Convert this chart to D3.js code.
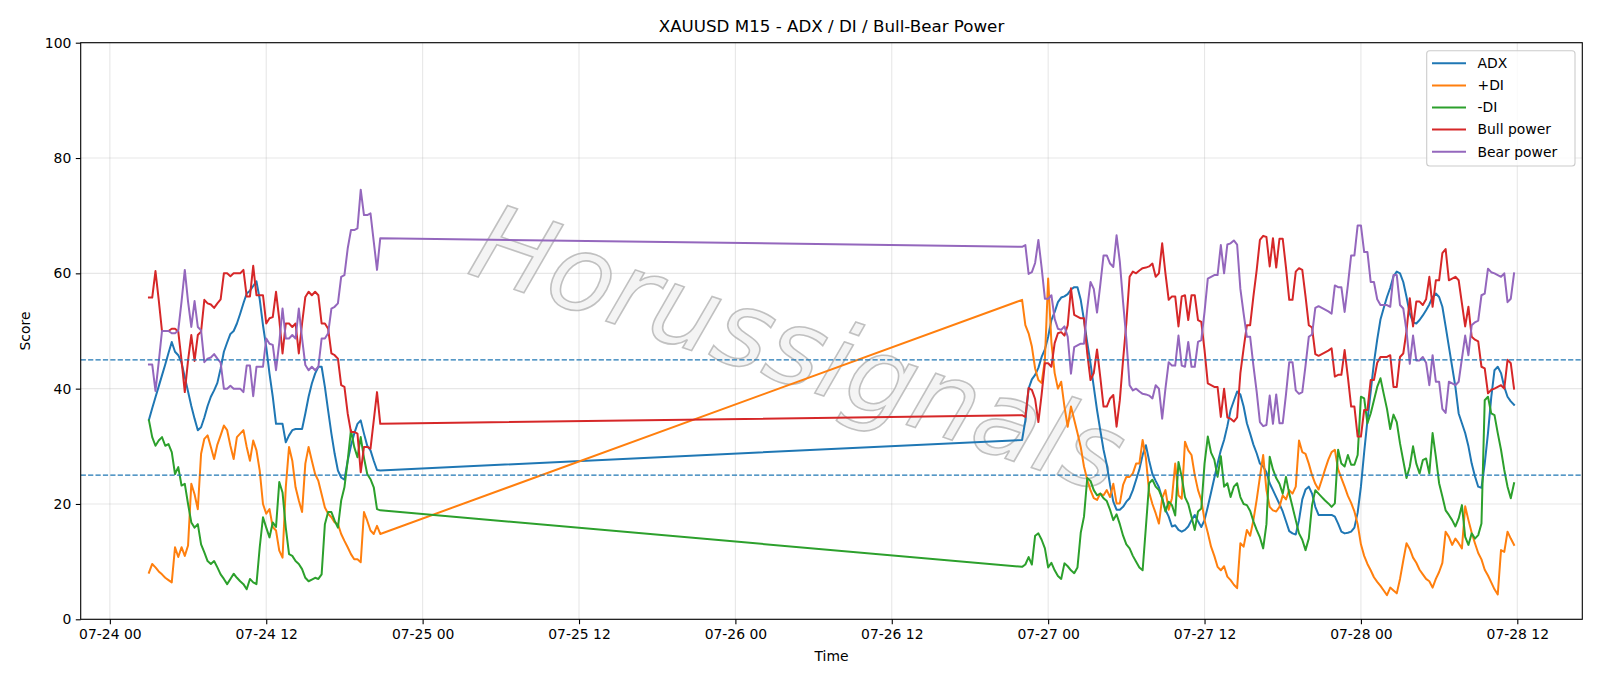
<!DOCTYPE html>
<html>
<head>
<meta charset="utf-8">
<script src="https://cdn.jsdelivr.net/npm/d3@7"></script>
<style>
  html, body { margin: 0; padding: 0; background: #ffffff; }
  svg { display: block; font-family: "DejaVu Sans", sans-serif; }
</style>
</head>
<body>
<svg id="chart" width="1600" height="686"></svg>
<script>
// ---------------- DATA ----------------
const chartTitle = "XAUUSD M15 - ADX / DI / Bull-Bear Power";
const seriesNames = ["ADX", "+DI", "-DI", "Bull power", "Bear power"];
// Two trading sessions of 15-minute bars (weekend gap in between)
const sessionStarts = ["2020-07-24T03:00:00Z", "2020-07-26T22:00:00Z"];
const sessionBars = [72, 152];
const xTickLabels = ["07-24 00","07-24 12","07-25 00","07-25 12","07-26 00","07-26 12","07-27 00","07-27 12","07-28 00","07-28 12"];
const yTickValues = [0, 20, 40, 60, 80, 100];
const thresholdLevels = [25, 45];

const adx = [
  34.6,36.6,38.5,40.4,42.3,44.2,46.2,48.1,46.4,45.8,
  44.5,42.0,39.5,37.0,34.8,32.8,33.3,35.0,37.0,38.6,
  39.7,41.0,43.5,46.4,48.0,49.5,50.0,51.3,53.0,54.8,
  56.5,57.0,57.8,58.6,55.5,51.0,47.2,42.6,38.6,33.9,
  33.9,33.9,30.7,31.9,32.8,33.0,33.0,33.0,35.7,38.6,
  40.9,42.6,43.8,43.8,40.3,36.2,32.2,28.7,25.8,24.6,
  24.2,27.5,30.1,32.2,33.9,34.5,32.2,30.1,29.3,27.5,
  25.9,25.8,
  31.1,34.5,40.0,41.6,42.4,43.6,45.5,46.8,49.0,51.9,
  53.3,55.0,55.8,56.0,56.4,57.2,57.6,57.6,55.4,51.9,
  48.0,44.4,40.3,36.3,32.8,29.4,26.8,23.3,20.4,19.0,
  19.0,19.5,20.4,21.0,22.4,24.2,26.0,28.5,30.2,27.5,
  25.2,24.0,22.9,21.0,19.0,17.8,16.1,16.3,15.5,15.2,
  15.5,16.1,17.2,18.1,17.0,16.0,17.2,19.5,22.0,24.5,
  27.0,29.3,31.1,33.5,36.3,37.9,39.5,39.0,36.9,34.0,
  32.2,30.3,28.8,27.0,26.5,25.5,23.6,22.4,21.2,20.0,
  18.7,17.0,15.3,14.9,14.7,17.2,20.8,22.5,23.0,21.8,
  19.5,18.1,18.1,18.1,18.1,18.1,17.8,16.6,15.2,14.9,
  15.0,15.2,15.9,18.5,23.0,29.0,34.5,39.5,44.5,48.5,
  52.0,54.0,55.9,57.5,59.5,60.3,60.0,58.5,55.9,53.0,
  51.5,51.3,51.9,52.7,53.6,54.6,55.9,56.5,55.9,54.2,
  50.8,47.3,43.8,40.3,35.7,34.0,32.3,30.0,27.0,24.8,
  23.0,22.8,27.0,32.3,38.5,43.2,43.8,42.7,40.3,38.6,
  37.8,37.2
];
const plusDI = [
  8.1,9.6,9.0,8.3,7.8,7.2,6.8,6.4,12.5,10.8,
  12.5,11.0,12.8,23.5,21.7,19.1,28.7,31.3,31.9,29.9,
  27.8,30.3,31.9,33.6,32.8,30.1,27.8,31.6,32.2,32.8,
  29.9,27.5,31.0,29.3,25.8,20.0,18.3,19.1,16.0,15.4,
  11.9,10.7,22.9,29.9,27.5,22.9,20.6,18.6,27.0,29.9,
  27.5,25.2,24.0,21.7,19.4,18.3,17.7,16.8,16.5,14.8,
  13.6,12.5,11.3,10.4,10.4,9.9,18.6,17.1,15.4,14.8,
  16.2,14.8,
  55.4,51.0,49.6,47.3,43.5,41.5,41.0,45.0,59.1,48.0,
  42.7,40.0,41.2,36.9,33.4,36.9,34.6,32.3,29.9,26.5,
  24.2,22.4,21.0,20.7,21.8,21.5,22.4,21.2,23.5,20.1,
  20.1,23.3,24.7,24.7,25.3,27.0,27.0,31.1,28.0,22.0,
  20.0,18.4,16.6,21.0,22.4,19.0,21.0,27.0,21.5,20.9,
  30.8,29.3,28.5,25.0,22.4,20.7,17.2,15.0,12.6,11.0,
  9.1,8.5,9.2,7.4,6.8,6.0,5.4,13.2,12.6,15.5,
  14.5,17.2,20.7,24.7,28.5,22.4,19.5,18.9,18.7,19.5,
  21.5,20.8,22.4,21.8,23.0,31.0,29.0,28.7,27.0,25.0,
  23.5,22.5,24.2,26.0,27.7,29.0,29.4,26.0,24.5,23.0,
  21.4,20.2,18.7,16.5,13.0,11.0,9.6,8.5,7.3,6.5,
  5.8,5.0,4.2,5.5,5.0,4.5,7.0,10.2,13.2,12.2,
  10.7,9.8,8.6,7.8,7.0,6.6,5.5,7.0,8.2,9.8,
  15.2,14.3,12.9,14.0,13.2,12.3,19.6,17.2,15.0,13.2,
  11.5,10.4,8.6,7.6,6.4,5.2,4.3,12.0,11.7,15.2,
  14.0,12.9
];
const minusDI = [
  34.5,31.6,30.1,31.0,31.6,30.1,30.4,29.0,25.2,26.4,
  23.2,23.5,20.0,16.8,15.9,16.5,13.0,11.6,10.1,9.6,
  10.1,9.0,7.8,7.0,6.1,7.0,7.9,7.2,6.6,6.1,
  5.2,7.0,6.4,6.1,12.5,17.7,15.9,14.2,16.8,16.0,
  23.8,22.0,15.9,11.3,11.0,10.1,9.6,8.7,7.2,6.6,
  6.9,7.2,7.0,7.8,16.5,18.6,18.6,17.1,15.9,20.6,
  22.9,27.5,32.8,29.9,28.1,31.6,28.0,25.2,24.3,22.9,
  19.1,18.9,
  9.1,9.5,10.8,9.5,14.5,14.9,13.8,12.3,9.0,9.8,
  8.5,7.5,7.0,9.7,9.2,8.5,8.0,9.0,15.0,17.8,
  24.5,24.0,22.4,21.5,21.8,21.0,20.5,19.0,17.2,18.2,
  16.5,14.5,13.0,12.3,11.0,10.0,9.0,8.5,16.0,23.6,
  24.2,23.0,22.4,21.0,18.7,20.4,19.8,18.0,27.3,24.7,
  21.2,20.0,17.8,15.5,18.7,19.2,27.0,31.7,28.9,27.7,
  24.7,28.3,23.0,23.6,21.2,23.0,23.6,21.2,20.0,19.8,
  18.8,17.0,15.5,14.2,12.3,16.5,28.2,26.0,24.5,23.5,
  21.8,24.7,21.8,19.5,17.2,14.9,13.8,12.0,14.0,19.8,
  22.4,21.8,21.2,20.6,20.1,19.5,20.1,29.4,27.0,26.5,
  28.5,26.8,26.8,28.5,38.6,38.3,34.0,35.7,38.0,40.3,
  41.8,39.1,36.5,33.0,35.5,34.2,30.5,27.5,24.5,26.5,
  30.0,27.0,25.3,27.6,27.9,25.3,32.3,28.2,23.6,21.3,
  18.9,18.1,17.2,16.1,17.5,19.8,14.3,12.9,14.9,14.0,
  14.6,16.6,38.0,38.6,35.7,35.4,32.3,29.4,25.9,23.0,
  21.0,23.6
];
const bullPower = [
  55.8,55.8,60.4,55.4,50.0,50.0,50.0,50.4,50.4,49.9,
  44.9,39.4,44.9,49.3,44.8,49.3,49.9,55.4,54.8,54.6,
  54.0,54.8,55.5,60.0,60.0,59.5,60.0,60.0,60.0,60.6,
  56.0,56.0,61.3,56.2,56.2,56.2,51.3,52.2,52.4,56.8,
  52.0,46.1,51.3,51.3,50.7,51.3,46.1,51.3,55.9,56.8,
  56.2,56.8,56.2,51.3,51.3,50.4,46.1,45.8,45.2,40.6,
  40.3,35.7,32.5,32.5,32.2,25.5,29.9,29.9,29.6,34.5,
  39.4,33.9,
  35.4,35.1,40.1,39.8,38.2,34.2,39.0,44.4,44.4,43.8,
  47.9,49.6,49.8,49.2,51.0,57.4,52.8,52.5,52.2,52.2,
  46.1,41.5,42.7,46.8,42.0,36.9,36.9,38.3,38.9,33.4,
  38.0,45.0,51.4,59.4,60.3,60.0,60.5,60.9,61.0,61.2,
  61.7,59.4,60.0,65.2,60.0,55.4,56.0,56.0,50.8,56.0,
  56.2,51.9,56.2,56.2,51.9,51.6,46.7,40.9,40.6,40.3,
  40.3,35.1,40.0,35.0,34.8,34.3,35.0,42.7,47.0,51.0,
  51.0,56.0,60.5,65.8,66.5,66.3,61.2,66.1,61.0,66.0,
  66.0,61.0,55.4,55.4,60.3,60.9,60.6,56.0,51.0,50.6,
  46.0,45.7,46.0,46.3,46.6,47.0,42.1,42.4,42.4,46.7,
  42.0,36.9,36.9,31.7,31.7,36.3,36.3,41.5,41.5,44.5,
  45.5,45.5,45.5,45.8,40.3,40.3,45.5,46.1,50.0,55.7,
  50.8,55.1,55.1,54.5,55.5,59.4,54.2,58.8,58.8,63.5,
  64.2,58.8,59.1,59.4,58.8,54.8,50.8,54.2,49.0,48.5,
  48.2,43.8,43.5,39.2,39.8,40.0,40.3,40.6,40.0,45.0,
  44.4,40.0
];
const bearPower = [
  44.2,44.2,39.6,44.6,50.0,50.0,50.0,49.6,49.6,50.1,
  55.1,60.6,55.1,50.7,55.2,50.7,50.1,44.6,45.2,45.4,
  46.0,45.2,44.5,40.0,40.0,40.5,40.0,40.0,40.0,39.4,
  44.0,44.0,38.7,43.8,43.8,43.8,48.7,47.8,47.6,43.2,
  48.0,53.9,48.7,48.7,49.3,48.7,53.9,48.7,44.1,43.2,
  43.8,43.2,43.8,48.7,48.7,49.6,53.9,54.2,54.8,59.4,
  59.7,64.3,67.5,67.5,67.8,74.5,70.1,70.1,70.4,65.5,
  60.6,66.1,
  64.6,64.9,59.9,60.2,61.8,65.8,61.0,55.6,55.6,56.2,
  52.1,50.4,50.2,50.8,49.0,42.6,47.2,47.5,47.8,47.8,
  53.9,58.5,57.3,53.2,58.0,63.1,63.1,61.7,61.1,66.6,
  62.0,55.0,48.6,40.6,39.7,40.0,39.5,39.1,39.0,38.8,
  38.3,40.6,40.0,34.8,40.0,44.6,44.0,44.0,49.2,44.0,
  43.8,48.1,43.8,43.8,48.1,48.4,53.3,59.1,59.4,59.7,
  59.7,64.9,60.0,65.0,65.2,65.7,65.0,57.3,53.0,49.0,
  49.0,44.0,39.5,34.2,33.5,33.7,38.8,33.9,39.0,34.0,
  34.0,39.0,44.6,44.6,39.7,39.1,39.4,44.0,49.0,49.4,
  54.0,54.3,54.0,53.7,53.4,53.0,57.9,57.6,57.6,53.3,
  58.0,63.1,63.1,68.3,68.3,63.7,63.7,58.5,58.5,55.5,
  54.5,54.5,54.5,54.2,59.7,59.7,54.5,53.9,50.0,44.3,
  49.2,44.9,44.9,45.5,44.5,40.6,45.8,41.2,41.2,36.5,
  35.8,41.2,40.9,40.6,41.2,45.2,49.2,45.8,51.0,51.5,
  51.8,56.2,56.5,60.8,60.2,60.0,59.7,59.4,60.0,55.0,
  55.6,60.0
];
const seriesColors = ["#1f77b4", "#ff7f0e", "#2ca02c", "#d62728", "#9467bd"];

// ---------------- BUILD ----------------
const BAR_MS = 15 * 60 * 1000;
const times = [];
sessionStarts.forEach((s, k) => {
  const t0 = new Date(s).getTime();
  for (let i = 0; i < sessionBars[k]; i++) times.push(new Date(t0 + i * BAR_MS));
});
const seriesValues = [adx, plusDI, minusDI, bullPower, bearPower];
const series = seriesNames.map((name, k) => ({
  name, color: seriesColors[k],
  points: times.map((t, i) => ({ t, v: seriesValues[k][i] })).filter(p => p.v !== undefined)
}));

const W = 1600, H = 686;
const plot = { left: 80.7, top: 42.7, right: 1582.3, bottom: 619.3 };

const svg = d3.select("#chart");

const tExt = d3.extent(times);
const pad = (tExt[1] - tExt[0]) * 0.05;
const x = d3.scaleUtc()
  .domain([new Date(tExt[0].getTime() - pad), new Date(tExt[1].getTime() + pad)])
  .range([plot.left, plot.right]);
const y = d3.scaleLinear().domain([0, 100]).range([plot.bottom, plot.top]);

const fmt = d3.utcFormat("%m-%d %H");
const xTicks = xTickLabels.map(lbl => {
  const [md, hh] = lbl.split(" ");
  const [mm, dd] = md.split("-");
  return new Date(Date.UTC(2020, +mm - 1, +dd, +hh));
});

// grid
const grid = svg.append("g");
grid.selectAll("line.gx").data(xTicks).join("line")
  .attr("x1", d => x(d)).attr("x2", d => x(d))
  .attr("y1", plot.top).attr("y2", plot.bottom)
  .attr("stroke", "#b0b0b0").attr("stroke-opacity", 0.3).attr("stroke-width", 1.1);
grid.selectAll("line.gy").data(yTickValues).join("line")
  .attr("x1", plot.left).attr("x2", plot.right)
  .attr("y1", d => y(d)).attr("y2", d => y(d))
  .attr("stroke", "#b0b0b0").attr("stroke-opacity", 0.3).attr("stroke-width", 1.1);

// watermark
svg.append("text")
  .attr("x", 0).attr("y", 0)
  .attr("transform", "translate(796,356) rotate(19)")
  .attr("text-anchor", "middle").attr("dominant-baseline", "middle")
  .attr("font-size", 106)
  .attr("font-style", "italic")
  .attr("fill", "#ececec").attr("fill-opacity", 0.6)
  .attr("stroke", "#a8a8a8").attr("stroke-width", 1.6).attr("stroke-opacity", 0.7)
  .text("Horussignals");

// clip
svg.append("clipPath").attr("id", "clip").append("rect")
  .attr("x", plot.left).attr("y", plot.top)
  .attr("width", plot.right - plot.left).attr("height", plot.bottom - plot.top);

// series lines
const line = d3.line().x(d => x(d.t)).y(d => y(d.v));
const linesG = svg.append("g").attr("clip-path", "url(#clip)");
series.forEach(s => {
  linesG.append("path").datum(s.points)
    .attr("d", line)
    .attr("fill", "none")
    .attr("stroke", s.color)
    .attr("stroke-width", 2.0)
    .attr("stroke-linejoin", "round")
    .attr("stroke-linecap", "square");
});

// threshold lines
linesG.selectAll("line.th").data(thresholdLevels).join("line")
  .attr("x1", plot.left).attr("x2", plot.right)
  .attr("y1", d => y(d)).attr("y2", d => y(d))
  .attr("stroke", "#1f77b4").attr("stroke-width", 1.4)
  .attr("stroke-dasharray", "5.2,2.2");

// axes
const xAxis = d3.axisBottom(x).tickValues(xTicks).tickFormat(fmt).tickSize(4.9).tickPadding(4.5);
const yAxis = d3.axisLeft(y).tickValues(yTickValues).tickFormat(d3.format("d")).tickSize(4.9).tickPadding(4.5);
const gx = svg.append("g").attr("transform", `translate(0,${plot.bottom})`).call(xAxis);
const gy = svg.append("g").attr("transform", `translate(${plot.left},0)`).call(yAxis);
[gx, gy].forEach(g => {
  g.select(".domain").remove();
  g.selectAll(".tick line").attr("stroke", "#000").attr("stroke-width", 1.1);
  g.selectAll(".tick text").attr("fill", "#000").attr("font-size", 13.9)
    .attr("font-family", "DejaVu Sans, sans-serif");
});

// frame
svg.append("rect")
  .attr("x", plot.left).attr("y", plot.top)
  .attr("width", plot.right - plot.left).attr("height", plot.bottom - plot.top)
  .attr("fill", "none").attr("stroke", "#000").attr("stroke-width", 1.1);

// title & labels
svg.append("text").attr("x", (plot.left + plot.right) / 2).attr("y", 32)
  .attr("text-anchor", "middle").attr("font-size", 16.7).attr("fill", "#000")
  .text(chartTitle);
svg.append("text").attr("x", (plot.left + plot.right) / 2).attr("y", 661)
  .attr("text-anchor", "middle").attr("font-size", 13.9).attr("fill", "#000")
  .text("Time");
svg.append("text")
  .attr("transform", `translate(30,${(plot.top + plot.bottom) / 2}) rotate(-90)`)
  .attr("text-anchor", "middle").attr("font-size", 13.9).attr("fill", "#000")
  .text("Score");

// legend
const lg = svg.append("g");
lg.append("rect").attr("x", 1426.7).attr("y", 50.7).attr("width", 148.3).attr("height", 115.3)
  .attr("rx", 3).attr("fill", "#fff").attr("fill-opacity", 0.8)
  .attr("stroke", "#cccccc").attr("stroke-width", 1.1);
series.forEach((s, k) => {
  const cy = 63.3 + k * 22.1;
  lg.append("line").attr("x1", 1432).attr("x2", 1466).attr("y1", cy).attr("y2", cy)
    .attr("stroke", s.color).attr("stroke-width", 2.0);
  lg.append("text").attr("x", 1477.5).attr("y", cy).attr("dy", "0.35em")
    .attr("font-size", 13.9).attr("fill", "#000").text(s.name);
});
</script>
</body>
</html>
